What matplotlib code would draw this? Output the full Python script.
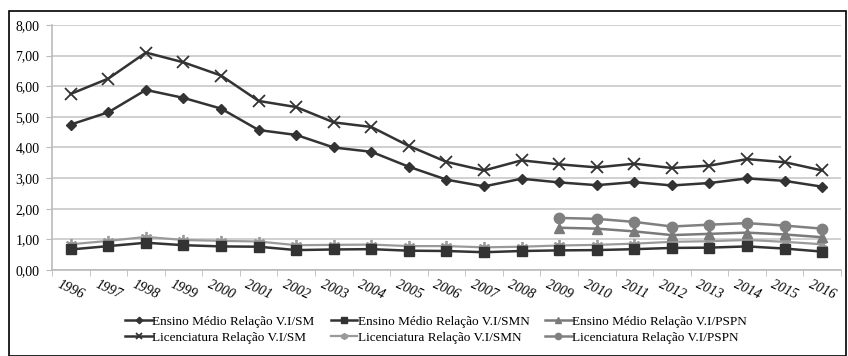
import numpy as np
import matplotlib.pyplot as plt
from matplotlib.patches import Rectangle

plt.rcParams["font.family"] = ["Liberation Serif", "DejaVu Serif"]

years = [str(y) for y in range(1996, 2017)]
nan = np.nan

# Ensino Médio
em_sm = [4.75, 5.15, 5.88, 5.62, 5.27, 4.57, 4.41, 4.00, 3.86, 3.37, 2.95, 2.73, 2.98,
         2.86, 2.77, 2.87, 2.76, 2.84, 2.99, 2.91, 2.72]
em_smn = [0.67, 0.78, 0.89, 0.81, 0.77, 0.76, 0.65, 0.67, 0.68, 0.63, 0.62, 0.58, 0.62,
          0.64, 0.65, 0.68, 0.72, 0.73, 0.77, 0.70, 0.60]
em_pspn = [nan] * 13 + [1.38, 1.35, 1.26, 1.14, 1.18, 1.22, 1.16, 1.07]

# Licenciatura
lic_sm = [5.75, 6.25, 7.10, 6.78, 6.35, 5.52, 5.32, 4.82, 4.67, 4.05, 3.53, 3.25, 3.58,
          3.45, 3.35, 3.47, 3.33, 3.41, 3.62, 3.52, 3.25]
lic_smn = [0.84, 0.95, 1.08, 0.98, 0.95, 0.93, 0.81, 0.82, 0.83, 0.78, 0.78, 0.74, 0.76,
           0.80, 0.82, 0.86, 0.92, 0.94, 0.98, 0.92, 0.84]
lic_pspn = [nan] * 13 + [1.70, 1.67, 1.57, 1.42, 1.48, 1.53, 1.45, 1.35]

x = np.arange(len(years))

fig = plt.figure(figsize=(8.48, 3.56), dpi=100)
ax = fig.add_axes([0.0613, 0.2416, 0.9304, 0.6882])

dark = "#333333"
lines = {}
lines["lic_smn"], = ax.plot(x, lic_smn, color="#9a9a9a", lw=1.6, marker=(6, 2, 0), ms=8, mew=1.3,
                            label="Licenciatura Relação V.I/SMN")
lines["em_smn"], = ax.plot(x, em_smn, color=dark, lw=1.8, marker="s", ms=6.5,
                           label="Ensino Médio Relação V.I/SMN")
lines["em_pspn"], = ax.plot(x, em_pspn, color="#7a7a7a", lw=1.8, marker="^", ms=7,
                            label="Ensino Médio Relação V.I/PSPN")
lines["lic_pspn"], = ax.plot(x, lic_pspn, color="#808080", lw=1.8, marker="o", ms=7.5,
                             label="Licenciatura Relação V.I/PSPN")
lines["em_sm"], = ax.plot(x, em_sm, color=dark, lw=1.8, marker="D", ms=5.5,
                          label="Ensino Médio Relação V.I/SM")
lines["lic_sm"], = ax.plot(x, lic_sm, color=dark, lw=1.8, marker="x", ms=8, mew=1.3,
                           label="Licenciatura Relação V.I/SM")

ax.set_ylim(0, 8)
ax.set_yticks(np.arange(0, 9, 1))
ax.set_yticklabels([f"{v:.2f}".replace(".", ",") for v in range(9)], fontsize=10)
ax.set_xlim(-0.5, len(years) - 0.5)
ax.set_xticks(x)
ax.set_xticklabels(years, fontsize=10, style="italic", rotation=-25,
                   rotation_mode="anchor", ha="center", va="center")
ax.set_xticks(np.arange(-0.5, len(years), 1), minor=True)
ax.tick_params(axis="x", which="major", length=0, pad=14)
ax.tick_params(axis="x", which="minor", length=4, color="#bbbbbb")
ax.tick_params(axis="y", length=4, color="#bbbbbb", pad=5)
ax.grid(axis="y", color="#c8c8c8", lw=1.2)
ax.set_axisbelow(True)
for s in ["top", "right"]:
    ax.spines[s].set_visible(False)
for s in ["left", "bottom"]:
    ax.spines[s].set_color("#bbbbbb")
    ax.spines[s].set_linewidth(1.2)

order = ["em_sm", "lic_sm", "em_smn", "lic_smn", "em_pspn", "lic_pspn"]
leg = ax.legend([lines[k] for k in order], [lines[k].get_label() for k in order],
                ncol=3, loc="upper center", bbox_to_anchor=(0.487, -0.185), frameon=False,
                fontsize=9.5, handlelength=2.0, handletextpad=0.05, columnspacing=1.2,
                labelspacing=0.3, markerscale=0.6, borderaxespad=0, borderpad=0)

fig.patches.append(Rectangle((9 / 848, 0.0), 837 / 848, 1 - 11 / 356, transform=fig.transFigure,
                             fill=False, edgecolor="black", lw=1.2))

fig.savefig("out.png", dpi=100)
